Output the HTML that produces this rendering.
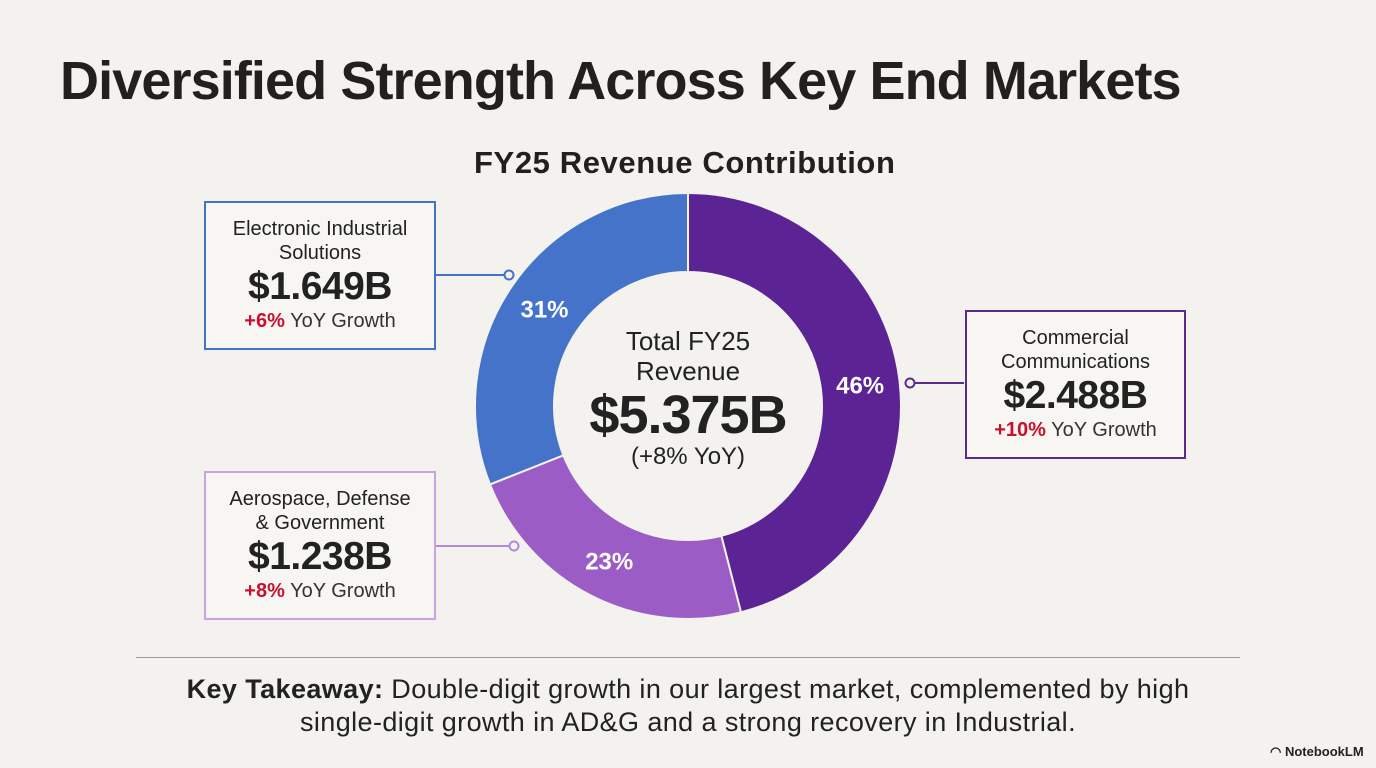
<!DOCTYPE html>
<html><head><meta charset="utf-8"><style>
body{margin:0;width:1376px;height:768px;background:#f3f2ee;font-family:"Liberation Sans",sans-serif;position:relative;overflow:hidden;color:#222}
.abs{position:absolute}
.box{position:absolute;background:#f7f6f3;text-align:center;box-sizing:border-box}
.box .n{font-size:20px;line-height:24px;color:#222}
.box .v{font-size:39px;font-weight:bold;line-height:44px;color:#222;letter-spacing:-0.5px}
.box .g{font-size:20px;line-height:24px;color:#333}
.box .g b{color:#c8102e}
</style></head><body>
<div class="abs" style="left:60px;top:50px;font-size:54px;font-weight:bold;letter-spacing:-0.9px;color:#231f1c">Diversified Strength Across Key End Markets</div>
<div class="abs" style="left:474px;top:145px;font-size:31px;font-weight:bold;letter-spacing:0.6px;color:#231f1c">FY25 Revenue Contribution</div>
<svg id="chart" class="abs" style="left:0;top:0" width="1376" height="768"></svg>
<div class="box" style="left:204px;top:201px;width:232px;height:149px;border:2px solid #4472c4;padding-top:14px">
<div class="n">Electronic Industrial<br>Solutions</div><div class="v">$1.649B</div><div class="g"><b>+6%</b> YoY Growth</div></div>
<div class="box" style="left:204px;top:471px;width:232px;height:149px;border:2px solid #c9a3e0;padding-top:14px">
<div class="n">Aerospace, Defense<br>&amp; Government</div><div class="v">$1.238B</div><div class="g"><b>+8%</b> YoY Growth</div></div>
<div class="box" style="left:965px;top:310px;width:221px;height:149px;border:2px solid #5b2a8e;padding-top:14px">
<div class="n">Commercial<br>Communications</div><div class="v">$2.488B</div><div class="g"><b>+10%</b> YoY Growth</div></div>
<div class="abs" style="left:560px;top:326px;width:256px;text-align:center">
<div style="font-size:26px;line-height:30px">Total FY25<br>Revenue</div>
<div style="font-size:54px;font-weight:bold;line-height:58px;letter-spacing:-1px;color:#222">$5.375B</div>
<div style="font-size:24px;line-height:26px">(+8% YoY)</div></div>
<div class="abs" style="left:136px;top:657px;width:1104px;height:1px;background:#999"></div>
<div class="abs" style="left:100px;top:673px;width:1176px;text-align:center;font-size:27px;line-height:33px;letter-spacing:0.4px;color:#222"><b>Key Takeaway:</b> Double-digit growth in our largest market, complemented by high<br>single-digit growth in AD&amp;G and a strong recovery in Industrial.</div>
<div class="abs" style="left:1270px;top:744px;font-size:13px;font-weight:bold;color:#222">◠ NotebookLM</div>
<script>
const categories=["Commercial Communications","Aerospace, Defense & Government","Electronic Industrial Solutions"];
const shares=[46,23,31];
const labels=["46%","23%","31%"];
const colors=["#5b2394","#9b5cc6","#4473c9"];
const svg=document.getElementById('chart');const NS="http://www.w3.org/2000/svg";
const cx=688,cy=406,R=213,r=134;
const total=shares.reduce((a,b)=>a+b,0);
function pt(a,rad){return [cx+rad*Math.sin(a),cy-rad*Math.cos(a)];}
let a0=0;
shares.forEach((v,i)=>{
 const a1=a0+v/total*2*Math.PI;const lg=(a1-a0)>Math.PI?1:0;
 const p1=pt(a0,R),p2=pt(a1,R),p3=pt(a1,r),p4=pt(a0,r);
 const p=document.createElementNS(NS,'path');
 p.setAttribute('d',`M${p1}A${R},${R} 0 ${lg} 1 ${p2}L${p3}A${r},${r} 0 ${lg} 0 ${p4}Z`);
 p.setAttribute('fill',colors[i]);p.setAttribute('stroke','#f3f2ee');p.setAttribute('stroke-width','2');
 
 
 svg.appendChild(p);
 const am=(a0+a1)/2;const lp=pt(am,(R+r)/2);
 const t=document.createElementNS(NS,'text');
 t.setAttribute('x',lp[0]);t.setAttribute('y',lp[1]+9);t.setAttribute('text-anchor','middle');
 t.setAttribute('fill','#fff');t.setAttribute('font-size','24');t.setAttribute('font-weight','bold');t.setAttribute('font-family','Liberation Sans, sans-serif');
 t.textContent=labels[i];
 
 
 svg.appendChild(t);
 a0=a1;
});
[[436,275,509,275,'#4472c4'],[436,546,514,546,'#b38ad6'],[964,383,910,383,'#5b2a8e']].forEach((c,i)=>{
 const l=document.createElementNS(NS,'line');l.setAttribute('x1',c[0]);l.setAttribute('y1',c[1]);l.setAttribute('x2',c[2]);l.setAttribute('y2',c[3]);l.setAttribute('stroke',c[4]);l.setAttribute('stroke-width','2');
 
 
 svg.appendChild(l);
 const ci=document.createElementNS(NS,'circle');ci.setAttribute('cx',c[2]);ci.setAttribute('cy',c[3]);ci.setAttribute('r','4.5');ci.setAttribute('fill','#f3f2ee');ci.setAttribute('stroke',c[4]);ci.setAttribute('stroke-width','2');
 
 
 svg.appendChild(ci);
});
</script>
</body></html>
